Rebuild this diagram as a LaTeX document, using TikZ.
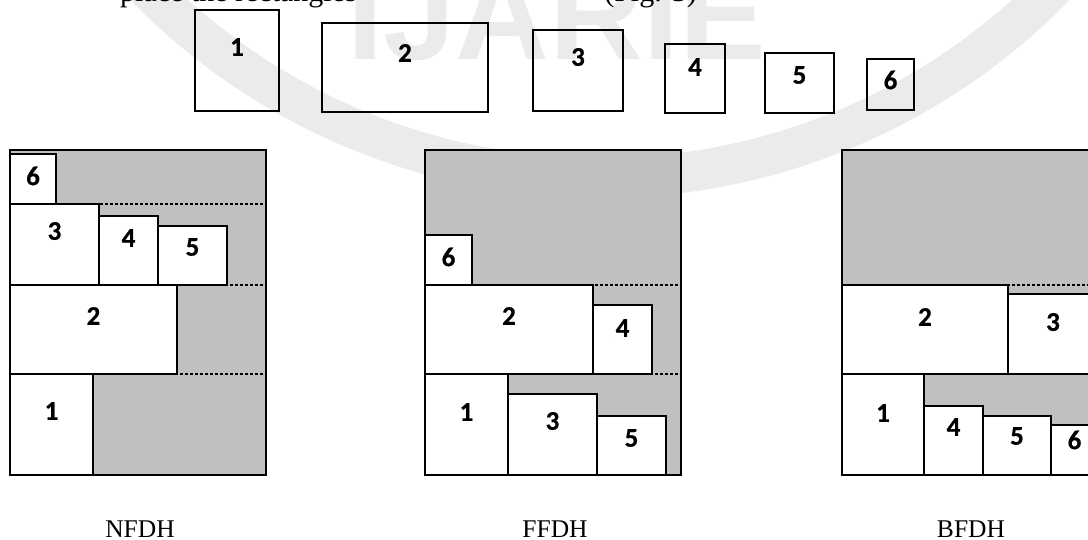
\documentclass[tikz,border=0pt]{standalone}
\usepackage{fontspec}
\setmainfont{Liberation Serif}
\newfontfamily\numfont{Carlito}[UprightFont={* Bold}, FakeBold=0.6]
\newfontfamily\markfont{Liberation Sans}
\definecolor{binfill}{HTML}{C0C0C0}
\definecolor{wm}{gray}{0.92}

% one rectangle with its number: [style]{name}{x1}{y1}{x2}{y2}{label}{label drop}
\newcommand\blk[8][box]{%
  \node[#1, anchor=north west, minimum width=#5pt-#3pt, minimum height=#6pt-#4pt] (#2) at (#3,#4) {};
  \path (#2.north) ++(0,#8) node[num] (#2l) {#7};
}

\begin{document}
\begin{tikzpicture}[x=1pt, y=-1pt,
  box/.style={draw=black, line width=2.3pt, fill=white, inner sep=0pt, outer sep=0pt},
  openbox/.style={draw=black, line width=2.3pt, inner sep=0pt, outer sep=0pt},
  bin/.style={draw=black, line width=2.3pt, fill=binfill, inner sep=0pt, outer sep=0pt},
  level/.style={black, line width=2.5pt, dash pattern=on 2.5pt off 2.5pt},
  num/.style={font=\numfont\fontsize{27}{27}\selectfont, inner sep=0pt},
  caption/.style={font=\fontsize{25.5}{26}\selectfont, anchor=base, inner sep=0pt}]
\useasboundingbox (0,0) rectangle (1088,540);
\fill[white] (0,0) rectangle (1088,540);

% faint watermark behind everything
\draw[wm, line width=40pt] (600,-458) circle[radius=636];
\node[wm, font=\markfont\bfseries\fontsize{130}{130}\selectfont, anchor=base, inner sep=0pt] (mark) at (557,60) {IJARIE};

% last line of the running text above the figure
\node[anchor=base west, inner sep=0pt, font=\fontsize{30}{30}\selectfont] (runtext) at (120,2) {place the rectangles};
\node[anchor=base east, inner sep=0pt, font=\fontsize{30}{30}\selectfont] (figref) at (697,2) {(Fig. 3)};

% the six items
\blk[openbox]{t1}{195}{10}{279}{111}{1}{37}
\blk[openbox]{t2}{322}{23}{488}{112}{2}{30}
\blk[openbox]{t3}{533}{30}{623}{111}{3}{27}
\blk[openbox]{t4}{665}{44}{725}{113}{4}{23}
\blk[openbox]{t5}{765}{53}{834}{113}{5}{22}
\blk[openbox]{t6}{867}{59}{914}{110}{6}{21}

% NFDH
\node[bin, anchor=north west, minimum width=256pt, minimum height=325pt] (nbin) at (10,150) {};
\draw[level] (10,374) -- (266,374);
\draw[level] (10,285) -- (266,285);
\draw[level] (10,204) -- (266,204);
\blk{n1}{10}{374}{93}{475}{1}{37}
\blk{n2}{10}{285}{177}{374}{2}{31}
\blk{n3}{10}{204}{99}{285}{3}{27}
\blk{n4}{99}{216}{158}{285}{4}{22}
\blk{n5}{158}{226}{227}{285}{5}{21}
\blk{n6}{10}{154}{56}{204}{6}{22}

% FFDH
\node[bin, anchor=north west, minimum width=256pt, minimum height=325pt] (fbin) at (425,150) {};
\draw[level] (425,374) -- (681,374);
\draw[level] (425,285) -- (681,285);
\blk{f1}{425}{374}{508}{475}{1}{38}
\blk{f3}{508}{394}{597}{475}{3}{27}
\blk{f5}{597}{416}{666}{475}{5}{22}
\blk{f2}{425}{285}{593}{374}{2}{31}
\blk{f4}{593}{305}{652}{374}{4}{23}
\blk{f6}{425}{235}{472}{285}{6}{22}

% BFDH
\node[bin, anchor=north west, minimum width=256pt, minimum height=325pt] (bbin) at (842,150) {};
\draw[level] (842,374) -- (1098,374);
\draw[level] (842,285) -- (1098,285);
\blk{b1}{842}{374}{924}{475}{1}{39}
\blk{b4}{924}{406}{983}{475}{4}{21}
\blk{b5}{983}{416}{1051}{475}{5}{20}
\blk{b6}{1051}{425}{1098}{475}{6}{15}
\blk{b2}{842}{285}{1008}{374}{2}{32}
\blk{b3}{1008}{294}{1098}{374}{3}{28}

% captions
\node[caption] (capn) at (140,537) {NFDH};
\node[caption] (capf) at (555,537) {FFDH};
\node[caption] (capb) at (971,537) {BFDH};
\end{tikzpicture}
\end{document}
